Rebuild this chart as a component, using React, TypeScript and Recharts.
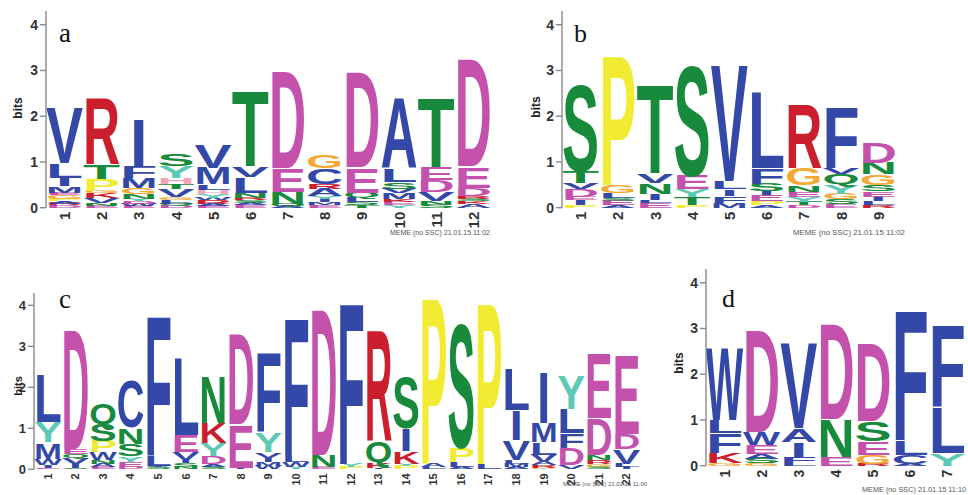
import React from 'react';
import { BarChart, Bar, XAxis, YAxis } from 'recharts';

type Stack = [string, number][];

const yTicks = [0, 1, 2, 3, 4];

const positionsA = ['1', '2', '3', '4', '5', '6', '7', '8', '9', '10', '11', '12'];
const logoA: Stack[] = [
  [['D', 0.05], ['R', 0.04], ['A', 0.05], ['P', 0.06], ['G', 0.08], ['E', 0.05], ['M', 0.14], ['I', 0.18], ['L', 0.33], ['V', 1.24]],
  [['E', 0.04], ['N', 0.06], ['V', 0.12], ['K', 0.1], ['G', 0.04], ['P', 0.27], ['T', 0.33], ['R', 1.48]],
  [['E', 0.04], ['W', 0.05], ['D', 0.06], ['Y', 0.05], ['N', 0.1], ['G', 0.14], ['M', 0.22], ['F', 0.26], ['I', 1.04]],
  [['D', 0.05], ['Q', 0.04], ['L', 0.08], ['G', 0.06], ['V', 0.18], ['T', 0.1], ['H', 0.14], ['Y', 0.26], ['S', 0.25]],
  [['E', 0.04], ['A', 0.05], ['R', 0.07], ['W', 0.06], ['Y', 0.09], ['H', 0.08], ['L', 0.12], ['M', 0.36], ['V', 0.51]],
  [['E', 0.05], ['A', 0.06], ['S', 0.05], ['R', 0.06], ['N', 0.1], ['L', 0.35], ['V', 0.24], ['T', 1.67]],
  [['A', 0.04], ['Q', 0.04], ['N', 0.26], ['E', 0.52], ['D', 2.18]],
  [['E', 0.06], ['M', 0.06], ['I', 0.07], ['Y', 0.06], ['A', 0.16], ['R', 0.1], ['C', 0.35], ['G', 0.3]],
  [['T', 0.05], ['S', 0.08], ['L', 0.1], ['Q', 0.1], ['E', 0.55], ['D', 2.14]],
  [['Y', 0.05], ['E', 0.08], ['K', 0.06], ['M', 0.13], ['V', 0.1], ['S', 0.14], ['L', 0.3], ['A', 1.58]],
  [['S', 0.07], ['N', 0.08], ['V', 0.2], ['D', 0.25], ['E', 0.3], ['T', 1.54]],
  [['A', 0.08], ['K', 0.06], ['S', 0.06], ['R', 0.06], ['D', 0.18], ['E', 0.47], ['D', 2.4]],
];

const positionsB = ['1', '2', '3', '4', '5', '6', '7', '8', '9'];
const logoB: Stack[] = [
  [['P', 0.06], ['I', 0.1], ['E', 0.08], ['D', 0.16], ['V', 0.15], ['T', 0.25], ['S', 1.93]],
  [['A', 0.05], ['E', 0.1], ['S', 0.06], ['L', 0.12], ['G', 0.17], ['P', 2.92]],
  [['E', 0.1], ['L', 0.06], ['I', 0.15], ['N', 0.24], ['V', 0.2], ['T', 1.98]],
  [['P', 0.06], ['T', 0.17], ['Y', 0.17], ['E', 0.32], ['S', 2.44]],
  [['M', 0.1], ['F', 0.15], ['I', 0.15], ['L', 0.18], ['V', 2.62]],
  [['A', 0.06], ['P', 0.08], ['E', 0.14], ['I', 0.08], ['S', 0.16], ['F', 0.35], ['L', 1.71]],
  [['D', 0.06], ['T', 0.07], ['Y', 0.1], ['E', 0.12], ['N', 0.15], ['G', 0.37], ['R', 1.42]],
  [['E', 0.08], ['S', 0.1], ['G', 0.13], ['Y', 0.2], ['Q', 0.22], ['V', 0.14], ['F', 1.35]],
  [['R', 0.06], ['L', 0.08], ['I', 0.1], ['E', 0.12], ['S', 0.14], ['G', 0.23], ['N', 0.25], ['D', 0.47]],
];

const positionsC = ['1', '2', '3', '4', '5', '6', '7', '8', '9', '10', '11', '12', '13', '14', '15', '16', '17', '18', '19', '20', '21', '22'];
const logoC: Stack[] = [
  [['E', 0.04], ['I', 0.06], ['W', 0.16], ['M', 0.4], ['Y', 0.5], ['L', 1.21]],
  [['S', 0.04], ['I', 0.08], ['V', 0.16], ['Q', 0.09], ['E', 0.12], ['D', 2.98]],
  [['E', 0.06], ['A', 0.08], ['N', 0.08], ['W', 0.2], ['P', 0.28], ['S', 0.41], ['Q', 0.53]],
  [['D', 0.05], ['E', 0.14], ['Y', 0.13], ['S', 0.3], ['N', 0.4], ['C', 1.15]],
  [['S', 0.05], ['I', 0.04], ['L', 0.24], ['F', 3.51]],
  [['N', 0.05], ['S', 0.1], ['I', 0.07], ['V', 0.2], ['E', 0.41], ['L', 1.93]],
  [['S', 0.06], ['A', 0.06], ['D', 0.2], ['Y', 0.32], ['K', 0.5], ['N', 1.15]],
  [['I', 0.03], ['E', 1.08], ['D', 2.28]],
  [['W', 0.08], ['M', 0.1], ['I', 0.1], ['V', 0.14], ['Y', 0.49], ['F', 1.99]],
  [['Y', 0.05], ['W', 0.12], ['L', 0.13], ['F', 3.46]],
  [['E', 0.05], ['N', 0.29], ['D', 3.66]],
  [['P', 0.06], ['Y', 0.08], ['F', 4.02]],
  [['I', 0.04], ['K', 0.14], ['Q', 0.53], ['R', 2.76]],
  [['P', 0.08], ['Y', 0.06], ['K', 0.3], ['I', 0.56], ['S', 1.25]],
  [['L', 0.06], ['A', 0.08], ['P', 4.16]],
  [['A', 0.05], ['L', 0.13], ['P', 0.36], ['S', 3.09]],
  [['L', 0.14], ['P', 4.02]],
  [['A', 0.06], ['M', 0.08], ['L', 0.08], ['V', 0.49], ['I', 0.73], ['L', 1.02]],
  [['G', 0.04], ['R', 0.06], ['A', 0.08], ['V', 0.18], ['L', 0.3], ['M', 0.48], ['I', 1.27]],
  [['V', 0.1], ['D', 0.42], ['F', 0.36], ['L', 0.6], ['Y', 0.85]],
  [['S', 0.06], ['G', 0.06], ['R', 0.1], ['N', 0.12], ['D', 0.9], ['E', 1.62]],
  [['I', 0.06], ['L', 0.08], ['V', 0.36], ['D', 0.37], ['E', 1.99]],
];

const positionsD = ['1', '2', '3', '4', '5', '6', '7'];
const logoD: Stack[] = [
  [['G', 0.05], ['K', 0.22], ['F', 0.44], ['L', 0.29], ['W', 1.62]],
  [['G', 0.05], ['S', 0.1], ['A', 0.1], ['E', 0.2], ['W', 0.29], ['D', 2.3]],
  [['L', 0.06], ['F', 0.14], ['I', 0.32], ['A', 0.3], ['V', 1.93]],
  [['E', 0.2], ['N', 0.83], ['D', 2.15]],
  [['R', 0.04], ['G', 0.2], ['E', 0.3], ['S', 0.44], ['D', 1.73]],
  [['A', 0.04], ['C', 0.2], ['L', 0.32], ['F', 2.92]],
  [['Y', 0.27], ['L', 1.02], ['F', 1.82]],
];

const footerA = 'MEME (no SSC) 21.01.15 11:02';
const footerB = 'MEME (no SSC) 21.01.15 11:02';
const footerC = 'MEME (no SSC) 21.01.15 11:00';
const footerD = 'MEME (no SSC) 21.01.15 11:10';

const BLUE = '#3448a8';
const GREEN = '#178a3c';
const MAG = '#c452ac';
const RED = '#cc1f2e';
const ORANGE = '#f3a936';
const YELLOW = '#f1ec33';
const TEAL = '#5cc9b6';
const PINK = '#f2a7b8';

const COLORS: Record<string, string> = {
  A: BLUE, C: BLUE, F: BLUE, I: BLUE, L: BLUE, M: BLUE, V: BLUE, W: BLUE,
  N: GREEN, Q: GREEN, S: GREEN, T: GREEN,
  D: MAG, E: MAG, K: RED, R: RED,
  G: ORANGE, P: YELLOW, Y: TEAL, H: PINK,
};

const FONT = "'Liberation Sans', Arial, Helvetica, sans-serif";
const SERIF = "'Liberation Serif', 'Times New Roman', serif";
const CAP = 0.716;

function LetterShape(props: any) {
  const { x, y, width, height, payload, layer } = props;
  if (!(height > 0) || !payload) return null;
  const ch = payload['l' + layer];
  if (!ch) return null;
  const base = 100;
  const narrow = ch === 'I';
  const tl = narrow ? width * 0.5 : width * 1.06;
  const tx = narrow ? x + width * 0.25 : x - width * 0.03;
  const sy = height / (CAP * base);
  return (
    <g transform={`translate(0 ${y + height}) scale(1 ${sy})`}>
      <text
        x={tx}
        y={0}
        fontSize={base}
        fontFamily={FONT}
        fontWeight="bold"
        fill={COLORS[ch] || '#888'}
        textLength={tl}
        lengthAdjust="spacingAndGlyphs"
      >
        {ch}
      </text>
    </g>
  );
}

function XTick(props: any) {
  const { x, y, payload, fs } = props;
  return (
    <text
      x={x}
      y={y}
      transform={`rotate(-90 ${x} ${y})`}
      textAnchor="end"
      dominantBaseline="central"
      fontSize={fs}
      fontWeight="bold"
      fontFamily={FONT}
      fill="#333"
    >
      {payload.value}
    </text>
  );
}

type PanelProps = {
  positions: string[];
  stacks: Stack[];
  left: number;
  right: number;
  y0: number;
  bit: number;
  xFont: number;
  yFont: number;
};

function LogoPanel({ positions, stacks, left, right, y0, bit, xFont, yFont }: PanelProps) {
  const YW = 40, MT = 4, MR = 4, XH = 34;
  const span = 4.3 * bit;
  const plotTop = y0 - span;
  const rows = positions.map((p, i) => {
    const row: Record<string, any> = { pos: p };
    stacks[i].forEach(([l, h], k) => {
      row['h' + k] = h;
      row['l' + k] = l;
    });
    return row;
  });
  const layers = Math.max(...stacks.map((s) => s.length));
  const w = right - left + YW + MR;
  const h = span + MT + XH;
  return (
    <div style={{ position: 'absolute', left: left - YW, top: plotTop - MT }}>
      <BarChart width={w} height={h} data={rows} margin={{ top: MT, right: MR, bottom: 0, left: 0 }} barCategoryGap={1}>
        <XAxis
          dataKey="pos"
          height={XH}
          axisLine={false}
          tickLine={false}
          tickSize={0}
          tickMargin={4}
          interval={0}
          tick={<XTick fs={xFont} />}
        />
        <YAxis
          width={YW}
          type="number"
          domain={[0, 4.3]}
          ticks={yTicks}
          interval={0}
          stroke="#8a8a8a"
          strokeWidth={1.4}
          tickSize={6}
          tickMargin={2}
          tick={{ fontSize: yFont, fontWeight: 'bold', fill: '#333', fontFamily: FONT }}
        />
        {Array.from({ length: layers }, (_, k) => (
          <Bar
            key={k}
            dataKey={'h' + k}
            stackId="s"
            isAnimationActive={false}
            shape={(p: any) => <LetterShape {...p} layer={k} />}
          />
        ))}
      </BarChart>
    </div>
  );
}

export default function App() {
  return (
    <div style={{ position: 'absolute', left: 0, top: 0, width: 968, height: 495, overflow: 'hidden', background: '#fff' }}>
      <LogoPanel positions={positionsA} stacks={logoA} left={46} right={492} y0={208} bit={45.75} xFont={15} yFont={14} />
      <LogoPanel positions={positionsB} stacks={logoB} left={562} right={897} y0={208} bit={45.75} xFont={15} yFont={14} />
      <LogoPanel positions={positionsC} stacks={logoC} left={34} right={640} y0={469} bit={41} xFont={11} yFont={13} />
      <LogoPanel positions={positionsD} stacks={logoD} left={706} right={966} y0={466} bit={45.75} xFont={14} yFont={14} />
      <svg width={968} height={495} style={{ position: 'absolute', left: 0, top: 0, pointerEvents: 'none' }}>
        <defs>
          <clipPath id="clipC">
            <rect x={14} y={300} width={40} height={150} />
          </clipPath>
        </defs>
        <text x={59} y={42} fontFamily={SERIF} fontSize={27} fill="#111">a</text>
        <text x={574} y={42} fontFamily={SERIF} fontSize={26} fill="#111">b</text>
        <text x={59} y={308} fontFamily={SERIF} fontSize={27} fill="#111">c</text>
        <text x={722} y={307} fontFamily={SERIF} fontSize={26} fill="#111">d</text>
        <text x={22} y={108} transform="rotate(-90 22 108)" textAnchor="middle" fontFamily={FONT} fontWeight="bold" fontSize={12} fill="#222">bits</text>
        <text x={540} y={107} transform="rotate(-90 540 107)" textAnchor="middle" fontFamily={FONT} fontWeight="bold" fontSize={12} fill="#222">bits</text>
        <g clipPath="url(#clipC)">
          <text x={22} y={386} transform="rotate(-90 22 386)" textAnchor="middle" fontFamily={FONT} fontWeight="bold" fontSize={11} fill="#222">bits</text>
        </g>
        <text x={683} y={363} transform="rotate(-90 683 363)" textAnchor="middle" fontFamily={FONT} fontWeight="bold" fontSize={12} fill="#222">bits</text>
        <text x={390} y={235} fontFamily={FONT} fontSize={7} fill="#555" textLength={100} lengthAdjust="spacingAndGlyphs">{footerA}</text>
        <text x={793} y={235} fontFamily={FONT} fontSize={7} fill="#555" textLength={112} lengthAdjust="spacingAndGlyphs">{footerB}</text>
        <text x={563} y={486} fontFamily={FONT} fontSize={6} fill="#555" textLength={84} lengthAdjust="spacingAndGlyphs">{footerC}</text>
        <text x={862} y={492} fontFamily={FONT} fontSize={7} fill="#555" textLength={104} lengthAdjust="spacingAndGlyphs">{footerD}</text>
      </svg>
    </div>
  );
}
